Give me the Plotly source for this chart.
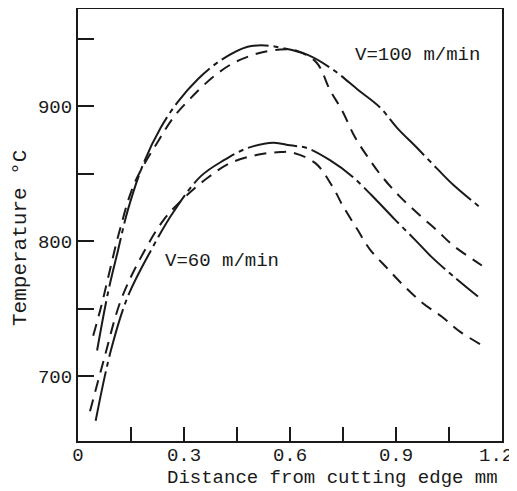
import plotly.graph_objects as go

# V=100 m/min, chain line
x100_chain = [0.054, 0.085, 0.113, 0.141, 0.186, 0.234, 0.282, 0.339, 0.404, 0.48, 0.53, 0.58,
              0.65, 0.722, 0.793, 0.855, 0.903, 0.96, 1.019, 1.061, 1.143]
y100_chain = [719, 762, 793, 823, 858, 884, 903, 920, 934, 944, 945, 943,
              938, 927, 912, 899, 884, 869, 853, 842, 824]

# V=100 m/min, dashed line
x100_dash = [0.043, 0.065, 0.088, 0.116, 0.16, 0.229, 0.271, 0.319, 0.384, 0.44, 0.508, 0.573,
             0.62, 0.676, 0.713, 0.747, 0.784, 0.821, 0.86, 0.911, 0.968, 1.016, 1.061, 1.143]
y100_dash = [730, 751, 776, 806, 843, 875, 892, 906, 922, 932, 939, 942,
             941, 932, 912, 897, 877, 862, 848, 833, 819, 808, 797, 782]

# V=60 m/min, chain line
x60_chain = [0.05, 0.093, 0.141, 0.206, 0.271, 0.347, 0.413, 0.48, 0.553, 0.6, 0.648, 0.713,
             0.776, 0.846, 0.897, 0.954, 1.002, 1.067, 1.132]
y60_chain = [667, 719, 759, 793, 822, 848, 860, 869, 873, 871, 869, 860,
             848, 830, 816, 801, 788, 773, 759]

# V=60 m/min, dashed line
x60_dash = [0.034, 0.073, 0.121, 0.178, 0.243, 0.3, 0.367, 0.432, 0.508, 0.573, 0.6, 0.671,
            0.719, 0.75, 0.79, 0.826, 0.875, 0.926, 0.976, 1.03, 1.081, 1.15]
y60_dash = [674, 712, 756, 788, 816, 832, 847, 858, 864, 866, 866, 858,
            841, 826, 809, 794, 780, 766, 754, 744, 733, 722]

x_tickvals = [0, 0.15, 0.3, 0.45, 0.6, 0.75, 0.9, 1.05, 1.2]
x_ticktext = ["0", "", "0.3", "", "0.6", "", "0.9", "", ""]
x_last_label = "1.2"   # drawn as an annotation so it is not clipped at the window edge
y_tickvals = [700, 750, 800, 850, 900, 950]
y_ticktext = ["700", "", "800", "", "900", ""]

FONT = "Liberation Mono, DejaVu Sans Mono, monospace"
INK = "#1a1a1a"
CHAIN = "50px,5px,5px,5px"
DASH = "12px,8px"

fig = go.Figure()
for xs, ys, dash in [(x100_chain, y100_chain, CHAIN), (x100_dash, y100_dash, DASH),
                     (x60_chain, y60_chain, CHAIN), (x60_dash, y60_dash, DASH)]:
    fig.add_trace(go.Scatter(x=xs, y=ys, mode="lines",
                             line=dict(color=INK, width=2, dash=dash, shape="spline", smoothing=1.0),
                             showlegend=False, hoverinfo="skip"))

# page body has an 8px margin, so the figure is sized/offset to compensate
fig.update_layout(
    width=509, height=483,
    margin=dict(l=70, r=15, t=1, b=50),
    paper_bgcolor="white", plot_bgcolor="white",
    font=dict(family=FONT, size=19, color=INK),
    xaxis=dict(range=[0, 1.2], tickvals=x_tickvals, ticktext=x_ticktext,
               ticks="inside", ticklen=14, tickwidth=2, tickcolor=INK,
               showline=True, linewidth=2, linecolor=INK, mirror=True, automargin=False,
               ticklabeloverflow="allow", ticklabelstandoff=-5,
               showgrid=False, zeroline=False, tickfont=dict(size=19)),
    yaxis=dict(range=[652, 972], tickvals=y_tickvals, ticktext=y_ticktext,
               ticks="inside", ticklen=16, tickwidth=2, tickcolor=INK,
               showline=True, linewidth=2, linecolor=INK, mirror=True, automargin=False,
               ticklabeloverflow="allow",
               showgrid=False, zeroline=False, tickfont=dict(size=19)),
    annotations=[
        dict(text=x_last_label, xref="x", yref="paper", x=x_tickvals[-1], y=0,
             yshift=-15, xshift=-6, xanchor="center", yanchor="middle",
             showarrow=False, font=dict(size=19)),
        dict(text="Distance from cutting edge mm", xref="paper", yref="paper",
             x=0.601, y=0, yshift=-37, xanchor="center", yanchor="middle",
             showarrow=False, font=dict(size=19)),
        dict(text="Temperature °C", xref="paper", yref="paper",
             x=0, y=(441 - 238) / 432, xshift=-58, xanchor="center", yanchor="middle",
             textangle=-90, showarrow=False, font=dict(size=21)),
        dict(text="V=100 m/min", xref="x", yref="y", x=0.96, y=938,
             xanchor="center", yanchor="middle", showarrow=False, font=dict(size=19)),
        dict(text="V=60 m/min", xref="x", yref="y", x=0.24, y=785,
             xanchor="left", yanchor="middle", showarrow=False, font=dict(size=19)),
    ],
)

fig.write_html("out.html")
